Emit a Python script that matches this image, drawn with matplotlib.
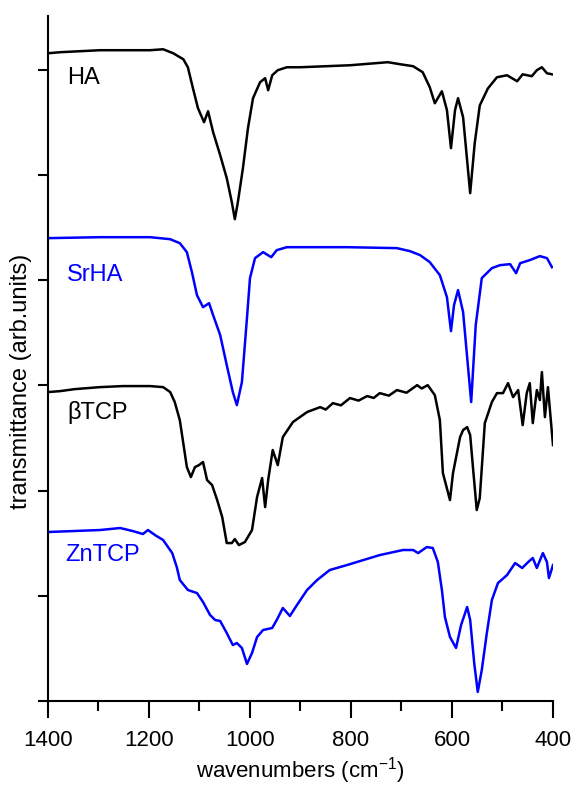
import numpy as np
import matplotlib
matplotlib.use('Agg')
from matplotlib import pyplot as plt

plt.rcParams['font.family'] = ['Liberation Sans', 'DejaVu Sans']
plt.rcParams['mathtext.default'] = 'regular'

# spectra: wavenumber (cm-1) and stacked transmittance (arb.)
ha_wn = [1400, 1376, 1297, 1198, 1172, 1152, 1132, 1123, 1113, 1103, 1091, 1083,
         1073, 1059, 1046, 1036, 1030, 1024, 1014, 1004, 994, 980, 970, 964, 956,
         945, 927, 901, 802, 727, 703, 677, 658, 644, 634, 620, 610, 602, 594, 588,
         578, 564, 555, 545, 529, 511, 491, 471, 460, 442, 432, 422, 412, 402]
ha_t = [615.6, 616.6, 618.5, 618.5, 619.4, 615.6, 609.9, 602.3, 582.4, 563.4, 550.1,
        560.5, 540.6, 518.7, 496.9, 474.1, 457.9, 474.1, 506.4, 544.4, 572.9, 588.1,
        591.9, 580.5, 594.7, 599.5, 602.3, 602.3, 604.2, 607.1, 605.2, 603.3, 597.6,
        583.3, 568.1, 579.5, 561.5, 525.4, 561.5, 572.9, 554.8, 482.6, 530.1, 566.0,
        582.1, 592.8, 594.7, 589.0, 595.6, 593.8, 599.5, 602.3, 596.6, 595.6]

srha_wn = [1400, 1297, 1198, 1158, 1139, 1125, 1115, 1105, 1093, 1081, 1073, 1059,
           1046, 1034, 1026, 1016, 1006, 1000, 990, 974, 958, 947, 927, 901, 808,
           709, 683, 663, 644, 624, 610, 602, 596, 588, 578, 562, 553, 541, 521,
           505, 485, 473, 465, 446, 426, 412, 402]
srha_t = [439.9, 440.8, 440.8, 438.9, 435.1, 426.6, 407.6, 385.7, 374.3, 378.1,
          366.7, 347.7, 319.2, 293.6, 281.2, 303.1, 363.9, 401.9, 420.9, 426.6,
          421.8, 428.5, 431.3, 431.3, 431.3, 430.4, 427.5, 423.7, 417.1, 404.7,
          383.8, 351.5, 376.2, 390.5, 369.6, 284.1, 357.2, 401.9, 411.4, 414.2,
          415.2, 406.6, 416.1, 419.0, 422.8, 420.9, 412.3]

btcp_wn = [1400, 1376, 1347, 1297, 1252, 1198, 1172, 1158, 1149, 1139, 1133, 1125,
           1117, 1109, 1101, 1093, 1085, 1075, 1065, 1055, 1046, 1036, 1030, 1022,
           1010, 996, 986, 976, 970, 964, 955, 945, 935, 915, 887, 861, 850, 836,
           820, 802, 785, 768, 755, 743, 725, 709, 690, 669, 660, 648, 634, 624,
           618, 604, 598, 584, 578, 570, 564, 558, 551, 545, 535, 521, 511, 499,
           489, 479, 469, 460, 452, 446, 440, 432, 426, 422, 416, 410, 400]
btcp_t = [293.6, 294.5, 296.4, 298.3, 299.3, 299.3, 298.3, 293.6, 284.1, 267.0,
          248.0, 222.3, 212.8, 222.3, 224.2, 227.1, 210.0, 205.2, 191.0, 174.8,
          150.1, 150.1, 153.9, 148.2, 151.1, 162.5, 193.8, 211.9, 184.3, 210.0,
          238.5, 224.2, 250.8, 265.1, 274.6, 279.3, 277.0, 283.1, 281.0, 287.9,
          285.5, 289.8, 288.0, 292.6, 290.2, 295.5, 293.0, 300.2, 297.0, 300.2,
          290.7, 267.0, 216.6, 191.0, 216.6, 250.8, 257.5, 260.3, 252.7, 219.5,
          181.5, 192.9, 264.1, 284.1, 292.6, 292.6, 302.1, 288.8, 295.5, 262.2,
          292.6, 302.1, 264.1, 295.5, 286.0, 312.6, 269.8, 298.3, 243.2]

zntcp_wn = [1400, 1297, 1257, 1232, 1212, 1202, 1188, 1172, 1154, 1145, 1139, 1123,
            1105, 1093, 1079, 1069, 1059, 1046, 1034, 1026, 1016, 1006, 996, 986,
            974, 956, 947, 935, 921, 907, 887, 867, 842, 808, 743, 697, 677, 667,
            650, 638, 628, 620, 614, 604, 592, 582, 570, 564, 556, 549, 541, 531,
            521, 509, 491, 475, 461, 449, 440, 432, 420, 412, 408, 400]
zntcp_t = [160.6, 162.5, 164.4, 161.5, 158.7, 162.5, 157.7, 153.0, 140.6, 127.3,
           115.0, 105.5, 102.6, 94.1, 81.7, 77.0, 76.0, 64.6, 53.2, 55.1, 50.4,
           35.2, 45.6, 60.8, 67.5, 69.4, 77.0, 88.4, 80.8, 91.2, 105.5, 115.0,
           124.5, 129.2, 138.7, 143.5, 143.5, 140.6, 146.3, 145.4, 132.1, 105.5,
           79.8, 60.8, 50.4, 72.2, 89.3, 77.0, 36.1, 8.6, 29.5, 64.6, 96.0, 112.1,
           119.7, 131.1, 126.4, 132.1, 135.9, 126.4, 140.6, 132.1, 116.9, 129.2]

names = ['HA', 'SrHA', 'βTCP', 'ZnTCP']
colors = ['black', '#0000ff', 'black', '#0000ff']
label_y = [592, 405, 274, 139]
label_x = [1362, 1362, 1362, 1366]

fig = plt.figure(figsize=(5.74, 7.85), dpi=100)
ax = fig.add_axes([0.0836, 0.107, 0.8798, 0.8726])

series = [(ha_wn, ha_t), (srha_wn, srha_t), (btcp_wn, btcp_t), (zntcp_wn, zntcp_t)]
for (wn, t), name, c, lx, ly in zip(series, names, colors, label_x, label_y):
    ax.plot(wn, t, color=c, linewidth=1.8, solid_joinstyle='round')
    ax.text(lx, ly, name, color=c, fontsize=17, va='center', ha='left')

ax.set_xlim(1400, 400)
ax.set_ylim(0, 651)
ax.set_xticks(np.arange(1400, 399, -200))
ax.set_xticks(np.arange(1300, 400, -200), minor=True)
ax.set_yticks(np.arange(0, 601, 100))
ax.set_yticklabels([])

for s in ['top', 'right']:
    ax.spines[s].set_visible(False)
for s in ['left', 'bottom']:
    ax.spines[s].set_linewidth(1.5)

ax.tick_params(axis='x', which='major', direction='out', length=12, width=1.5,
               labelsize=16, pad=9)
ax.tick_params(axis='x', which='minor', direction='out', length=7, width=1.5)
ax.tick_params(axis='y', which='major', direction='out', length=7, width=1.5)

ax.set_xlabel('wavenumbers (cm$^{-1}$)', fontsize=16, labelpad=3)
ax.set_ylabel('transmittance (arb.units)', fontsize=17)
ax.yaxis.set_label_coords(-0.032, 0.466)

plt.savefig('out.png', dpi=100)
plt.close()
